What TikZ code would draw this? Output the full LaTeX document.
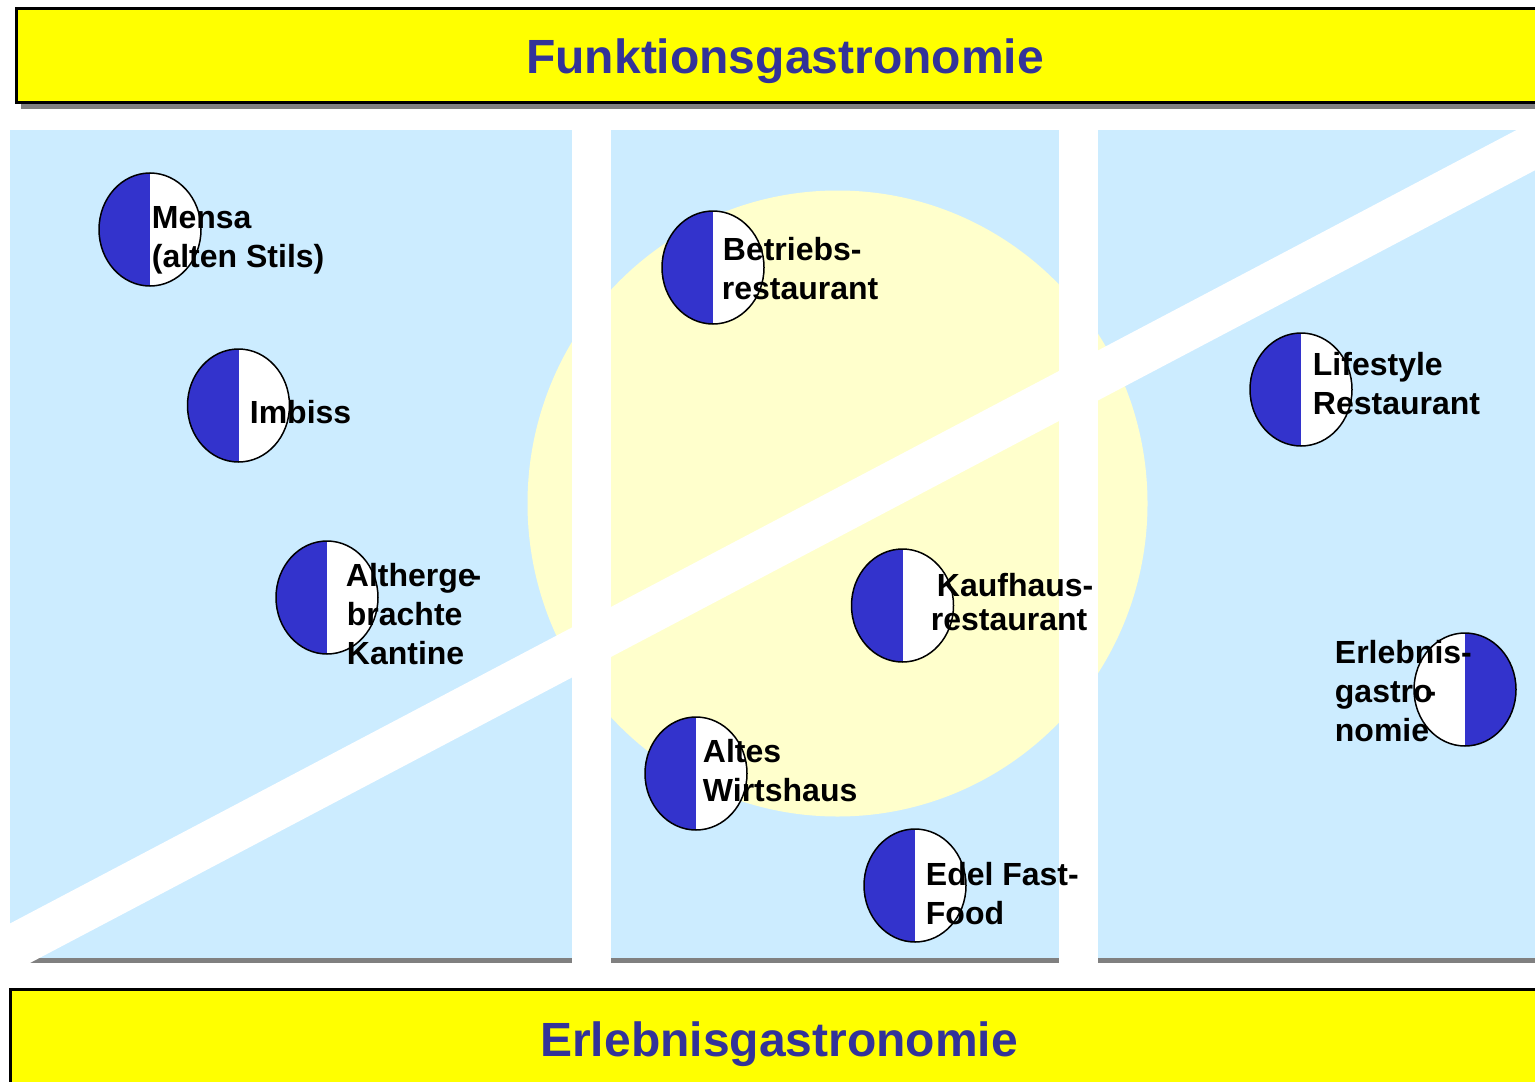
\documentclass[tikz,border=0pt]{standalone}
\usepackage{fontspec}
\setmainfont{Liberation Sans}
\usetikzlibrary{shapes.geometric}

\definecolor{panelblue}{RGB}{204,236,255}
\definecolor{softyellow}{RGB}{255,255,204}
\definecolor{banneryellow}{RGB}{255,255,0}
\definecolor{shadowgray}{RGB}{128,128,128}
\definecolor{titleblue}{RGB}{51,51,153}
\definecolor{halfblue}{RGB}{51,51,204}

\tikzset{
  banner/.style={fill=banneryellow, draw=black, line width=1.5pt},
  bannertitle/.style={font=\fontsize{24pt}{28pt}\selectfont\bfseries,
    text=titleblue, inner sep=0pt, anchor=base},
  marker/.style={ellipse, draw=black, line width=0.75pt, fill=white,
    inner sep=0pt, minimum width=51pt, minimum height=56.5pt},
  leftblue/.style={marker, path picture={\fill[halfblue]
    (path picture bounding box.north) rectangle (path picture bounding box.south west);}},
  rightblue/.style={marker, path picture={\fill[halfblue]
    (path picture bounding box.north) rectangle (path picture bounding box.south east);}},
  lbl/.style={font=\fontsize{16pt}{19.5pt}\selectfont\bfseries,
    inner sep=0pt, anchor=base west},
}

\begin{document}
\begin{tikzpicture}[x=0.5pt,y=-0.5pt]
\useasboundingbox (0,0) rectangle (1535,1081);
\clip (0,0) rectangle (1535,1081);
\fill[white] (0,0) rectangle (1535,1081);

% light blue field with its shadow line
\fill[panelblue] (10,130) rectangle (1540,958);
\fill[shadowgray] (10,958) rectangle (1540,963);

% pale yellow disc in the middle
\fill[softyellow] (837.5,503.5) ellipse [x radius=155pt, y radius=156.5pt];

% diagonal white band
\fill[white] (-10,934) -- (1545,115) -- (1545,165) -- (-10,984) -- cycle;

% vertical white separators
\fill[white] (572,110) rectangle (611,966);
\fill[white] (1059,110) rectangle (1098,966);

% top banner
\fill[shadowgray] (21,14) rectangle (1560,109.5);
\draw[banner] (16.5,8.5) rectangle (1555,103);
\node[bannertitle] (top) at (785,74) {Funktionsgastronomie};

% bottom banner
\draw[banner] (10.5,989.5) rectangle (1555,1100);
\node[bannertitle] (bottom) at (779,1056) {Erlebnisgastronomie};

% half-filled markers
\node[leftblue] (mensaM) at (150,229.5) {};
\node[leftblue] (imbissM) at (238.5,405.5) {};
\node[leftblue] (kantineM) at (327,597.5) {};
\node[leftblue] (betriebM) at (713,267.5) {};
\node[leftblue] (kaufhausM) at (902.5,605.5) {};
\node[leftblue] (wirtshausM) at (696,773.5) {};
\node[leftblue] (fastfoodM) at (915,885.5) {};
\node[leftblue] (lifestyleM) at (1301,389.5) {};
\node[rightblue] (erlebnisM) at (1465,689.5) {};

% labels
\node[lbl] (mensa1) at (151.5,228) {Mensa};
\node[lbl] (mensa2) at (151.5,267) {(alten Stils)};

\node[lbl] (imbiss1) at (249.5,423) {Imbiss};

\node[lbl] (kantine1) at (345.5,586) {Altherge\kern-2.5pt-};
\node[lbl] (kantine2) at (346.5,625) {brachte};
\node[lbl] (kantine3) at (346.5,664) {Kantine};

\node[lbl] (betrieb1) at (722.5,260) {Betriebs-};
\node[lbl] (betrieb2) at (721.5,299) {restaurant};

\node[lbl] (kaufhaus1) at (936.5,596) {Kaufhaus-};
\node[lbl] (kaufhaus2) at (930.5,630) {restaurant};

\node[lbl] (wirtshaus1) at (702.5,762) {Altes};
\node[lbl] (wirtshaus2) at (702.5,801) {Wirtshaus};

\node[lbl] (fastfood1) at (925.5,885) {Edel Fast-};
\node[lbl] (fastfood2) at (925.5,924) {Food};

\node[lbl] (lifestyle1) at (1312.5,375) {Lifestyle};
\node[lbl] (lifestyle2) at (1312.5,414) {Restaurant};

\node[lbl] (erlebnis1) at (1334.5,663) {Erlebnis-};
\node[lbl] (erlebnis2) at (1334.5,702) {gastro\kern-3.5pt-};
\node[lbl] (erlebnis3) at (1334.5,741) {nomie};
\end{tikzpicture}
\end{document}
